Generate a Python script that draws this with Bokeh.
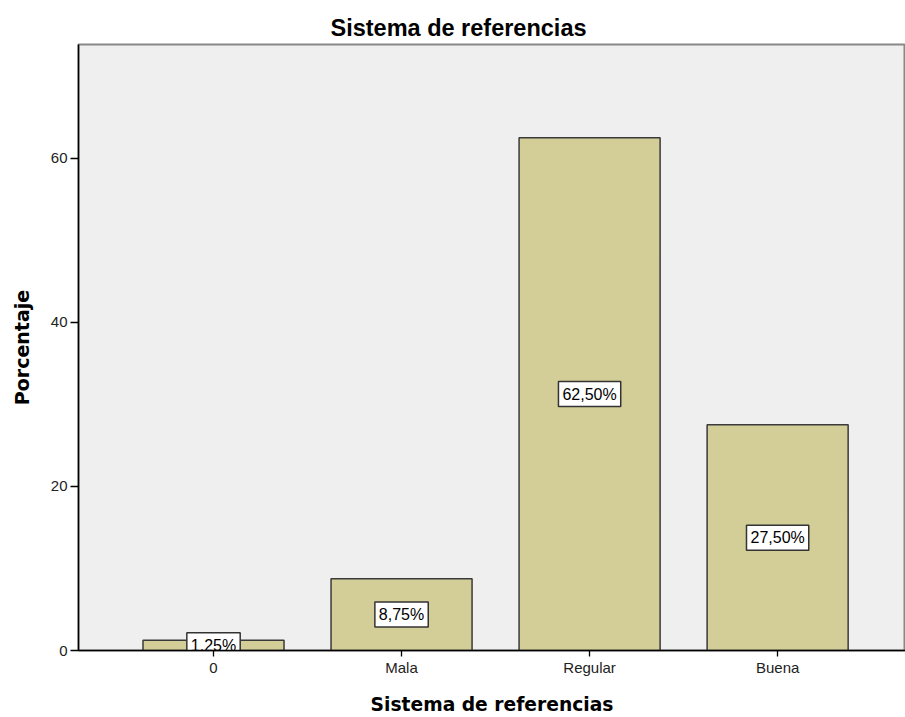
from bokeh.plotting import figure
from bokeh.models import ColumnDataSource, FixedTicker, Range1d
from bokeh.core.properties import value
from bokeh.embed import file_html
from bokeh.resources import INLINE

categories = ["0", "Mala", "Regular", "Buena"]
percentages = [1.25, 8.75, 62.50, 27.50]
y_ticks = [0, 20, 40, 60]

xs = list(range(len(categories)))
labels = [f"{v:.2f}%".replace(".", ",") for v in percentages]
source = ColumnDataSource(dict(x=xs, top=percentages, mid=[v / 2 for v in percentages], label=labels))

FONT = "Liberation Sans"
LABEL_FONT = "DejaVu Sans"

p = figure(width=905, height=717, output_backend="svg", toolbar_location=None,
           x_range=Range1d(-0.718, 3.68), y_range=Range1d(0, 73.85),
           min_border_left=78, min_border_right=0, min_border_top=44, min_border_bottom=65,
           title="Sistema de referencias")

p.vbar(x="x", top="top", width=0.75, source=source, fill_color="#D3CE97",
       line_color="#3a3a3a", line_width=1.5)

p.text(x="x", y="mid", text="label", source=source,
       text_align="center", text_baseline="middle",
       text_font=value(FONT), text_font_size="16px", text_color="black",
       background_fill_color="white", border_line_color="#333333",
       border_line_width=1.5, padding=4)

p.background_fill_color = "#EFEFEF"
p.border_fill_color = "white"
p.outline_line_color = "#888888"
p.outline_line_width = 2
p.grid.visible = False

p.title.text_font = FONT
p.title.text_font_size = "23.5px"
p.title.text_font_style = "bold"
p.title.text_color = "black"
p.title.align = "left"
p.title.offset = 252
p.title.standoff = 8

p.xaxis.ticker = FixedTicker(ticks=xs)
p.xaxis.major_label_overrides = {i: c for i, c in enumerate(categories)}
p.yaxis.ticker = FixedTicker(ticks=y_ticks)

for ax in (p.xaxis, p.yaxis):
    ax.axis_line_color = "black"
    ax.axis_line_width = 1.5
    ax.major_tick_line_color = "black"
    ax.major_tick_line_width = 1.3
    ax.major_tick_in = 0
    ax.minor_tick_line_color = None
    ax.major_label_text_font = FONT
    ax.major_label_text_font_size = "15px"
    ax.major_label_text_color = "#222222"
    ax.major_label_standoff = 3
    ax.axis_label_text_font = LABEL_FONT
    ax.axis_label_text_font_style = "bold"
    ax.axis_label_text_color = "black"

p.xaxis.major_tick_out = 6
p.yaxis.major_tick_out = 8
p.xaxis.major_label_standoff = 2
p.xaxis.axis_label = "Sistema de referencias"
p.yaxis.axis_label = "Porcentaje"
p.xaxis.axis_label_text_font_size = "18.7px"
p.yaxis.axis_label_text_font_size = "19px"
p.xaxis.axis_label_standoff = 15
p.yaxis.axis_label_standoff = 15

open("out.html", "w").write(file_html(p, INLINE))
